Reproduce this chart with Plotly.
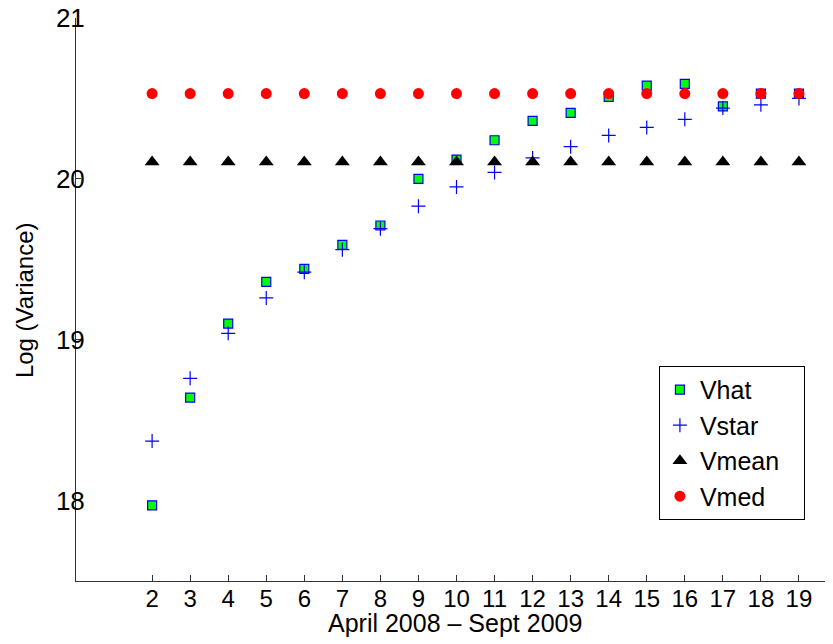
import plotly.graph_objects as go

months = list(range(2, 20))
vhat = [17.97, 18.64, 19.10, 19.36, 19.44, 19.59, 19.71, 20.00, 20.12, 20.24,
        20.36, 20.41, 20.51, 20.58, 20.59, 20.45, 20.53, 20.53]
vstar = [18.37, 18.76, 19.04, 19.26, 19.42, 19.56, 19.69, 19.83, 19.95, 20.04,
         20.13, 20.20, 20.27, 20.32, 20.37, 20.44, 20.46, 20.50]
vmean = [20.105] * len(months)
vmed = [20.53] * len(months)

x_ticks = list(range(2, 20))
y_ticks = [18, 19, 20, 21]

FONT = "Liberation Sans, Arial, Helvetica, sans-serif"
PAD = "\u00a0\u00a0\u2009"

fig = go.Figure()
fig.add_trace(go.Scatter(
    x=months, y=vhat, mode="markers", name="Vhat" + PAD, legendgroup="a",
    marker=dict(symbol="square", size=9, color="rgb(0,255,0)",
                line=dict(color="rgb(0,0,255)", width=1.2))))
fig.add_trace(go.Scatter(
    x=months, y=vstar, mode="markers", name="Vstar" + PAD, legendgroup="b",
    marker=dict(symbol="cross-thin", size=10, color="rgb(0,0,255)",
                line=dict(color="rgb(0,0,255)", width=1.2))))
fig.add_trace(go.Scatter(
    x=months, y=vmean, mode="markers", name="Vmean" + PAD, legendgroup="c",
    marker=dict(symbol="triangle-up", size=13, color="black", line=dict(width=0))))
fig.add_trace(go.Scatter(
    x=months, y=vmed, mode="markers", name="Vmed" + PAD, legendgroup="d",
    marker=dict(symbol="circle", size=11, color="rgb(255,0,0)", line=dict(width=0))))

fig.update_layout(
    width=833, height=644,
    margin=dict(l=68, r=4, t=10, b=71, autoexpand=False),
    paper_bgcolor="white", plot_bgcolor="white",
    font=dict(family=FONT, size=24, color="black"),
    showlegend=True,
    legend=dict(x=0.766, y=0.382, xanchor="left", yanchor="top",
                bordercolor="black", borderwidth=1, bgcolor="white",
                font=dict(size=25), traceorder="grouped", tracegroupgap=0,
                itemsizing="trace"),
    xaxis=dict(range=[0, 20], tickmode="array", tickvals=x_ticks,
               ticktext=[str(v) for v in x_ticks], automargin=False,
               ticks="inside", ticklen=6, tickcolor="#333", showgrid=False,
               zeroline=False, showline=True, linecolor="#333", linewidth=1,
               tickfont=dict(size=24), ticklabelstandoff=-4,
               ticklabeloverflow="allow"),
    yaxis=dict(range=[17.5, 21], tickmode="array", tickvals=y_ticks,
               ticktext=[str(v) for v in y_ticks], automargin=False,
               ticks="inside", ticklen=5, tickcolor="#333", showgrid=False,
               zeroline=False, showline=True, linecolor="#333", linewidth=1,
               tickfont=dict(size=26), ticklabelstandoff=-15,
               ticklabeloverflow="allow"),
    annotations=[
        dict(text="April 2008 \u2013 Sept 2009", xref="paper", yref="paper",
             x=0.4975, y=-0.0746, xanchor="center", yanchor="middle",
             showarrow=False, font=dict(size=25)),
        dict(text="Log (Variance)", xref="paper", yref="paper",
             x=-0.0683, y=0.499, xanchor="center", yanchor="middle",
             textangle=-90, showarrow=False, font=dict(size=24)),
    ],
)

fig.write_html("out.html")
